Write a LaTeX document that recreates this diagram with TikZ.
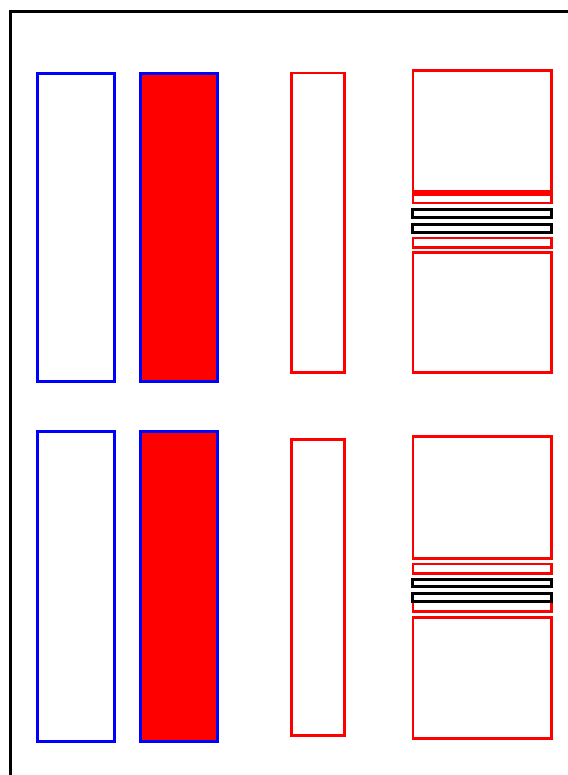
\documentclass[tikz,border=0pt]{standalone}
\begin{document}
\begin{tikzpicture}[x=1pt,y=-1pt,
  bluebox/.style={draw=blue,line width=3pt},
  bluefill/.style={draw=blue,fill=red,line width=3pt},
  redbox/.style={draw=red,line width=2.6pt},
  blackbox/.style={draw=black,line width=3pt},
  frameline/.style={draw=black,line width=3pt}]
\useasboundingbox (0,0) rectangle (567,775);
% frame
\draw[frameline] (10.8,776) |- (568,11.3);
% top group
\draw[bluebox] (37.5,73.2) rectangle (114.2,381.2);
\draw[bluefill] (140.5,73.2) rectangle (217.2,381.2);
\draw[redbox] (291.5,73.2) rectangle (344.2,372.2);
\draw[redbox] (412.8,70.5) rectangle (551.2,191.3);
\draw[redbox] (412.8,194.3) rectangle (551.2,203);
\draw[blackbox] (412.5,209.8) rectangle (551.2,217.8);
\draw[blackbox] (412.5,224.2) rectangle (551.2,232.8);
\draw[redbox] (412.8,238.2) rectangle (551.2,247.5);
\draw[redbox] (412.8,252.8) rectangle (551.2,372.2);
% bottom group
\draw[bluebox] (37.5,431.5) rectangle (114.2,741.3);
\draw[bluefill] (140.5,431.5) rectangle (217.2,741.3);
\draw[redbox] (291.5,439.2) rectangle (344.2,735.2);
\draw[redbox] (412.8,436.5) rectangle (551.2,558.2);
\draw[redbox] (412.8,563.8) rectangle (551.2,573.2);
\draw[redbox] (412.8,602) rectangle (551.2,611.2);
\draw[blackbox] (412.5,579.5) rectangle (551.2,586.8);
\draw[blackbox] (412.5,593.2) rectangle (551.2,601.8);
\draw[redbox] (412.8,617.2) rectangle (551.2,738.3);
\end{tikzpicture}
\end{document}
